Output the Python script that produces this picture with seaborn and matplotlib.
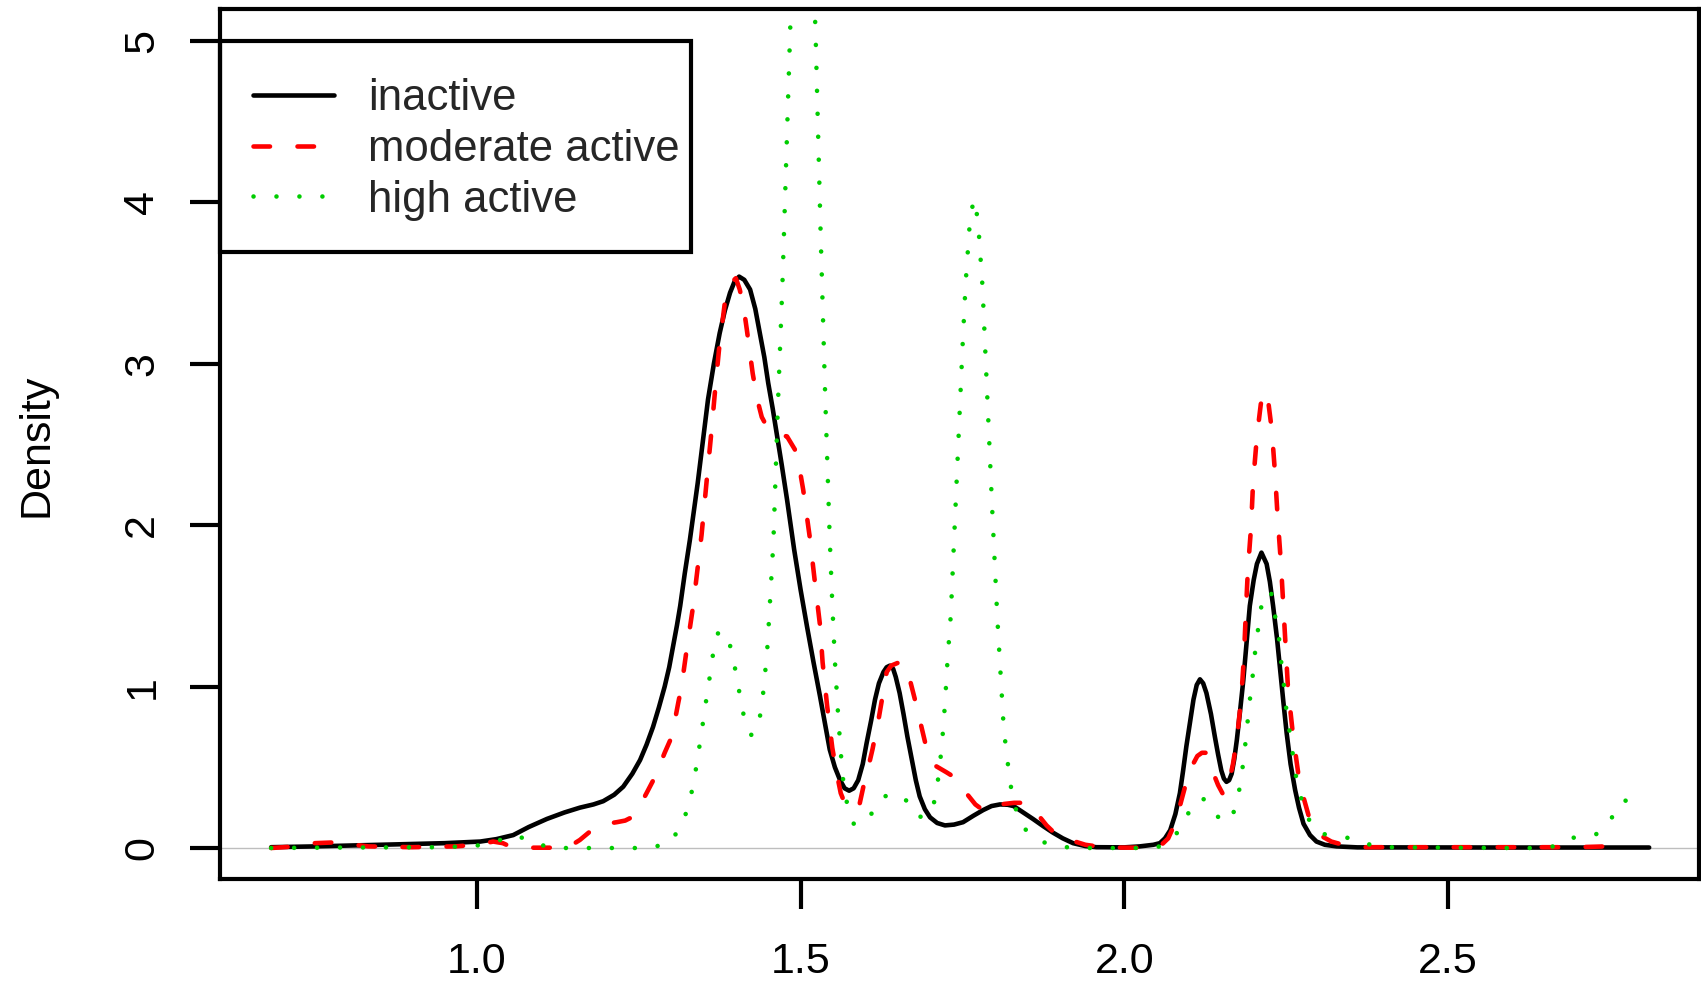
import numpy as np
import pandas as pd
import seaborn as sns
import matplotlib
matplotlib.use("Agg")
import matplotlib.pyplot as plt
from matplotlib.patches import Rectangle

# density curves (x, density)
inactive_x = [0.682, 0.75, 0.85, 0.95, 1.005, 1.03, 1.056, 1.08, 1.108, 1.135, 1.159, 1.18,
              1.195, 1.212, 1.226, 1.24, 1.252, 1.262, 1.272, 1.281, 1.290, 1.297, 1.303,
              1.309, 1.314, 1.321, 1.329, 1.341, 1.349, 1.357, 1.366, 1.375, 1.383, 1.391,
              1.398, 1.405, 1.413, 1.422, 1.430, 1.437, 1.444, 1.450, 1.457, 1.463, 1.471,
              1.479, 1.490, 1.50, 1.51, 1.52, 1.530, 1.545, 1.553, 1.561, 1.568, 1.575,
              1.582, 1.589, 1.596, 1.602, 1.609, 1.615, 1.621, 1.628, 1.633, 1.638, 1.643,
              1.647, 1.653, 1.659, 1.665, 1.672, 1.678, 1.684, 1.692, 1.700, 1.711, 1.723,
              1.737, 1.751, 1.767, 1.782, 1.795, 1.808, 1.82, 1.829, 1.844, 1.859, 1.875,
              1.890, 1.905, 1.921, 1.94, 1.957, 2.0, 2.024, 2.045, 2.055, 2.063, 2.071,
              2.079, 2.086, 2.091, 2.096, 2.102, 2.107, 2.112, 2.117, 2.122, 2.127, 2.134,
              2.140, 2.145, 2.150, 2.154, 2.158, 2.162, 2.166, 2.170, 2.174, 2.179, 2.184,
              2.189, 2.194, 2.2, 2.205, 2.212, 2.220, 2.225, 2.230, 2.236, 2.241, 2.246,
              2.251, 2.257, 2.264, 2.270, 2.277, 2.287, 2.297, 2.31, 2.328, 2.36, 2.6, 2.811]
inactive_y = [0.005, 0.01, 0.02, 0.03, 0.04, 0.055, 0.08, 0.13, 0.18, 0.22, 0.25, 0.27,
              0.29, 0.33, 0.38, 0.46, 0.545, 0.64, 0.75, 0.87, 1.00, 1.12, 1.25,
              1.38, 1.50, 1.70, 1.91, 2.26, 2.52, 2.78, 3.0, 3.19, 3.33, 3.44,
              3.51, 3.54, 3.52, 3.46, 3.34, 3.19, 3.04, 2.88, 2.72, 2.57, 2.37,
              2.16, 1.85, 1.60, 1.37, 1.15, 0.94, 0.61, 0.50, 0.42, 0.37, 0.355,
              0.37, 0.42, 0.52, 0.65, 0.79, 0.92, 1.02, 1.09, 1.12, 1.13, 1.11,
              1.06, 0.96, 0.83, 0.69, 0.545, 0.42, 0.32, 0.24, 0.19, 0.155, 0.14,
              0.145, 0.16, 0.20, 0.235, 0.26, 0.27, 0.268, 0.26, 0.22, 0.18, 0.135,
              0.095, 0.06, 0.03, 0.012, 0.005, 0.004, 0.01, 0.02, 0.03, 0.06, 0.11,
              0.21, 0.34, 0.48, 0.63, 0.79, 0.92, 1.01, 1.045, 1.02, 0.96, 0.83,
              0.69, 0.58, 0.48, 0.43, 0.41, 0.42, 0.46, 0.55, 0.67, 0.85, 1.04,
              1.27, 1.50, 1.66, 1.76, 1.83, 1.76, 1.65, 1.50, 1.30, 1.10, 0.90,
              0.71, 0.52, 0.36, 0.25, 0.15, 0.08, 0.04, 0.02, 0.01, 0.004, 0.003, 0.003]

moderate_x = [0.682, 0.72, 0.749, 0.782, 0.81, 0.832, 0.9, 0.966, 1.0, 1.025, 1.04, 1.051,
              1.08, 1.14, 1.159, 1.18, 1.2, 1.216, 1.229, 1.239, 1.25, 1.262, 1.275,
              1.290, 1.301, 1.311, 1.316, 1.324, 1.334, 1.342, 1.347, 1.355, 1.362, 1.368,
              1.374, 1.383, 1.392, 1.400, 1.406, 1.412, 1.417, 1.426, 1.433, 1.440, 1.448,
              1.457, 1.468, 1.479, 1.491, 1.498, 1.504, 1.514, 1.522, 1.530, 1.534, 1.541,
              1.549, 1.556, 1.562, 1.569, 1.576, 1.584, 1.591, 1.597, 1.604, 1.611, 1.621,
              1.633, 1.640, 1.652, 1.663, 1.669, 1.676, 1.682, 1.689, 1.695, 1.708, 1.725,
              1.741, 1.756, 1.770, 1.785, 1.797, 1.808, 1.83, 1.849, 1.865, 1.88, 1.893,
              1.916, 1.94, 1.97, 2.024, 2.055, 2.068, 2.078, 2.086, 2.094, 2.101, 2.113,
              2.12, 2.126, 2.135, 2.145, 2.153, 2.161, 2.168, 2.174, 2.181, 2.185, 2.188,
              2.191, 2.196, 2.199, 2.205, 2.211, 2.217, 2.223, 2.228, 2.233, 2.237, 2.242,
              2.246, 2.253, 2.261, 2.271, 2.287, 2.302, 2.32, 2.338, 2.36, 2.7, 2.744, 2.770]
moderate_y = [0.0, 0.01, 0.03, 0.035, 0.02, 0.01, 0.005, 0.01, 0.02, 0.04, 0.03, 0.01,
              0.002, 0.002, 0.05, 0.12, 0.15, 0.16, 0.17, 0.19, 0.25, 0.34, 0.44,
              0.59, 0.69, 0.90, 1.00, 1.23, 1.50, 1.77, 1.94, 2.28, 2.57, 2.84,
              3.09, 3.38, 3.50, 3.53, 3.46, 3.35, 3.21, 2.94, 2.78, 2.67, 2.61,
              2.58, 2.56, 2.55, 2.47, 2.36, 2.22, 1.93, 1.65, 1.38, 1.15, 0.88,
              0.62, 0.46, 0.34, 0.27, 0.235, 0.24, 0.27, 0.38, 0.49, 0.61, 0.81,
              1.09, 1.13, 1.15, 1.13, 1.04, 0.93, 0.83, 0.71, 0.61, 0.51, 0.47,
              0.43, 0.34, 0.27, 0.225, 0.245, 0.27, 0.28, 0.28, 0.215, 0.14, 0.09,
              0.05, 0.02, 0.003, 0.002, 0.01, 0.06, 0.15, 0.26, 0.38, 0.48, 0.57,
              0.59, 0.59, 0.49, 0.39, 0.33, 0.39, 0.52, 0.67, 0.94, 1.19, 1.47,
              1.72, 1.99, 2.26, 2.55, 2.75, 2.83, 2.75, 2.59, 2.32, 2.05, 1.77,
              1.49, 0.99, 0.69, 0.40, 0.17, 0.08, 0.04, 0.02, 0.005, 0.005, 0.01, 0.04]

high_x = [0.682, 0.8, 0.95, 1.0, 1.028, 1.06, 1.092, 1.12, 1.262, 1.296, 1.315, 1.327,
          1.334, 1.340, 1.345, 1.350, 1.355, 1.360, 1.365, 1.373, 1.381, 1.389, 1.397,
          1.403, 1.409, 1.416, 1.424, 1.432, 1.439, 1.443, 1.446, 1.449, 1.451, 1.453,
          1.455, 1.458, 1.465, 1.472, 1.478, 1.484, 1.49, 1.503, 1.516, 1.523, 1.531,
          1.538, 1.545, 1.549, 1.553, 1.558, 1.563, 1.566, 1.572, 1.583, 1.595, 1.609,
          1.629, 1.645, 1.659, 1.678, 1.69, 1.701, 1.706, 1.710, 1.714, 1.718, 1.723,
          1.727, 1.732, 1.741, 1.750, 1.755, 1.762, 1.768, 1.774, 1.781, 1.787, 1.796,
          1.804, 1.810, 1.814, 1.818, 1.822, 1.827, 1.836, 1.846, 1.856, 1.870, 1.886,
          1.92, 2.02, 2.057, 2.082, 2.099, 2.11, 2.121, 2.132, 2.142, 2.155, 2.165,
          2.175, 2.181, 2.185, 2.189, 2.192, 2.196, 2.200, 2.203, 2.208, 2.213, 2.220,
          2.227, 2.233, 2.239, 2.242, 2.246, 2.249, 2.254, 2.259, 2.263, 2.270, 2.279,
          2.295, 2.31, 2.326, 2.358, 2.38, 2.40, 2.595, 2.629, 2.664, 2.695, 2.729,
          2.752, 2.770, 2.783, 2.795]
high_y = [0.0, 0.003, 0.005, 0.015, 0.04, 0.08, 0.025, 0.0, 0.0, 0.025, 0.13, 0.26,
          0.39, 0.53, 0.665, 0.80, 0.94, 1.07, 1.21, 1.34, 1.34, 1.29, 1.15,
          1.02, 0.88, 0.75, 0.70, 0.72, 0.85, 0.99, 1.12, 1.26, 1.40, 1.53,
          1.67, 1.9, 2.75, 3.5, 4.3, 5.1, 5.8, 6.2, 5.8, 5.07, 3.8,
          2.8, 1.92, 1.51, 1.16, 0.82, 0.545, 0.41, 0.27, 0.14, 0.16, 0.21,
          0.32, 0.33, 0.32, 0.20, 0.19, 0.215, 0.28, 0.345, 0.48, 0.62, 0.89,
          1.165, 1.44, 2.26, 3.09, 3.50, 3.91, 4.02, 3.89, 3.48, 2.93, 2.10,
          1.42, 1.01, 0.73, 0.60, 0.46, 0.325, 0.19, 0.12, 0.085, 0.045, 0.02,
          0.0, 0.0, 0.01, 0.095, 0.215, 0.28, 0.31, 0.26, 0.20, 0.17, 0.17,
          0.30, 0.435, 0.57, 0.71, 0.845, 0.98, 1.12, 1.25, 1.39, 1.53, 1.59,
          1.58, 1.44, 1.31, 1.17, 1.04, 0.90, 0.76, 0.63, 0.49, 0.36, 0.225,
          0.105, 0.085, 0.075, 0.055, 0.02, 0.005, 0.0, 0.0, 0.01, 0.065, 0.085,
          0.18, 0.295, 0.29, 0.25]

labels = ["inactive", "moderate active", "high active"]
x_ticks = [1.0, 1.5, 2.0, 2.5]
x_tick_labels = ["1.0", "1.5", "2.0", "2.5"]
y_ticks = [0, 1, 2, 3, 4, 5]

sns.set_theme(style="white")
plt.rcParams["font.family"] = ["Liberation Sans", "DejaVu Sans"]

fig = plt.figure(figsize=(17.01, 9.85), dpi=100)
ax = fig.add_axes([220 / 1701, 1 - 879 / 985, 1479 / 1701, 870 / 985])

ax.axhline(0, color="#bebebe", lw=1.0, zorder=0)

sns.lineplot(x=inactive_x, y=inactive_y, ax=ax, color="black", lw=3.3, sort=False,
             estimator=None, label=labels[0])
sns.lineplot(x=moderate_x, y=moderate_y, ax=ax, color="#ff0000", lw=3.3, sort=False,
             estimator=None, label=labels[1])
sns.lineplot(x=high_x, y=high_y, ax=ax, color="#00cd00", lw=3.3, sort=False,
             estimator=None, label=labels[2])

lines = ax.get_lines()[1:]
lines[1].set_dashes((3.6, 6.0))
lines[1].set_dash_capstyle("round")
lines[2].set_dashes((0.01, 5.0))
lines[2].set_dash_capstyle("round")
for ln in lines:
    ln.set_solid_joinstyle("round")

ax.set_xlim(0.603, 2.888)
ax.set_ylim(-0.192, 5.198)
ax.set_xticks(x_ticks)
ax.set_xticklabels(x_tick_labels)
ax.set_yticks(y_ticks)
ax.set_yticklabels([str(v) for v in y_ticks], rotation=90, va="center")
ax.tick_params(axis="both", direction="out", length=21.5, width=3, labelsize=31,
               color="black", labelcolor="black", bottom=True, left=True)
ax.tick_params(axis="x", pad=24)
ax.tick_params(axis="y", pad=20)
for s in ax.spines.values():
    s.set_linewidth(3)
    s.set_color("black")

ax.set_xlabel("")
ax.set_ylabel("Density", fontsize=31, color="black", va="center")
ax.yaxis.set_label_coords(-0.124, 0.498)

# legend entries without frame; box drawn separately to match R's tight right edge
leg = ax.legend(loc="upper left", bbox_to_anchor=(-0.0044, 0.9655), borderaxespad=0,
                fontsize=31.5, frameon=False, handlelength=1.86, handletextpad=0.77,
                borderpad=0.9, labelspacing=0.22)
for h in leg.get_lines():
    h.set_linewidth(3.3)
ax.add_patch(Rectangle((0.0, (879 - 252) / 870), (691 - 220) / 1479, (252 - 41) / 870,
                       transform=ax.transAxes, fill=False, edgecolor="black", lw=3,
                       clip_on=False, zorder=5))

fig.savefig("out.png", dpi=100)
